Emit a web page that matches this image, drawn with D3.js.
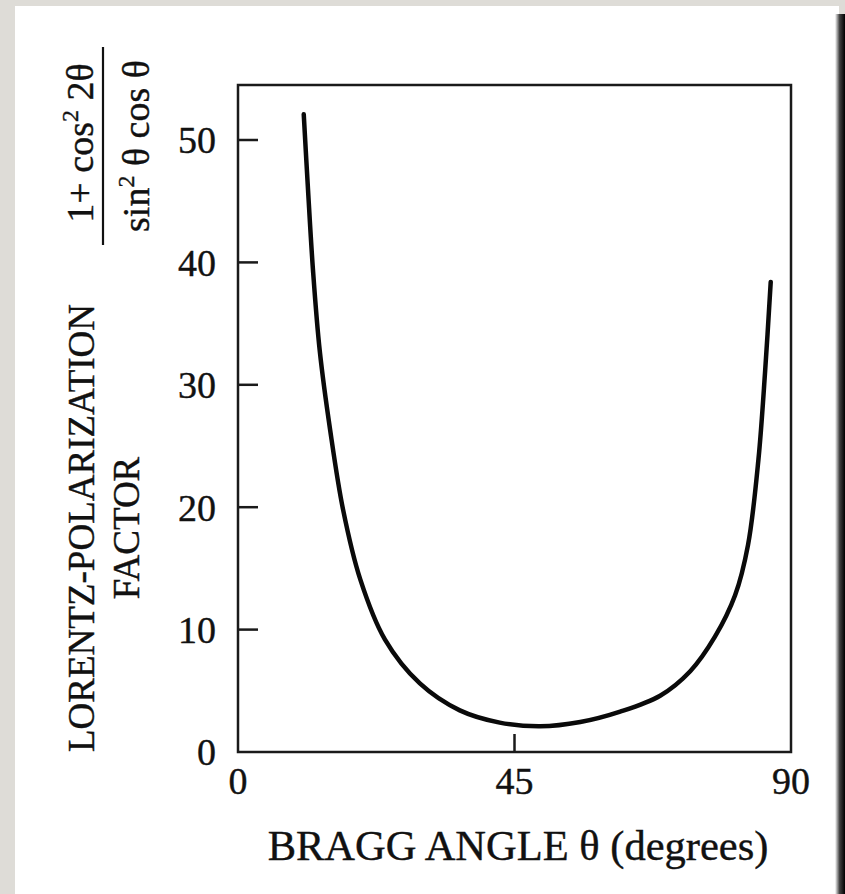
<!DOCTYPE html>
<html><head><meta charset="utf-8">
<script src="https://cdn.jsdelivr.net/npm/d3@7"></script>
<style>
html,body{margin:0;padding:0;background:#dcdad5;}
svg{display:block;}
</style></head>
<body>
<svg id="chart" width="845" height="894"></svg>
<script>
// Data
const braggAngle = [10.7, 11.4, 12.2, 13.3, 15.0, 17.1, 19.9, 23.9, 29.6, 36.1, 42.6, 49.2, 55.7, 62.2, 68.7, 73.6, 77.6, 80.9, 83.0, 84.7, 85.8, 86.7];
const lpFactor   = [52.1, 45.9, 39.4, 32.8, 26.3, 19.8, 14.1, 9.2, 5.6, 3.4, 2.4, 2.1, 2.45, 3.3, 4.6, 6.6, 9.4, 12.8, 16.9, 23.9, 31.2, 38.4];
const yTicks = [0, 10, 20, 30, 40, 50];
const xTickLabels = [0, 45, 90];
const xTickMarks = [45];

(function(){
const svg = d3.select("#chart");
const font = "'Liberation Serif','Times New Roman',serif";
const ink = "#111";

// background panel
const defs = svg.append("defs");
const g1 = defs.append("linearGradient").attr("id","shadow").attr("x1","0").attr("x2","1").attr("y1","0").attr("y2","0");
g1.append("stop").attr("offset","0").attr("stop-color","#ffffff");
g1.append("stop").attr("offset","0.45").attr("stop-color","#444");
g1.append("stop").attr("offset","1").attr("stop-color","#000");
svg.append("rect").attr("x",0).attr("y",0).attr("width",845).attr("height",894).attr("fill","#dedcd7");
svg.append("rect").attr("x",15).attr("y",6).attr("width",824).attr("height",888).attr("fill","#ffffff");
svg.append("rect").attr("x",835).attr("y",14).attr("width",10).attr("height",880).attr("fill","url(#shadow)");

const pLeft = 238, pRight = 791, pTop = 85, pBottom = 752;
const x = d3.scaleLinear().domain([0, 90]).range([pLeft, pRight]);
const y = d3.scaleLinear().domain([0, 50]).range([pBottom, 140]);

// frame
svg.append("rect").attr("x",pLeft).attr("y",pTop).attr("width",pRight-pLeft).attr("height",pBottom-pTop)
  .attr("fill","none").attr("stroke","#1a1a1a").attr("stroke-width",2.5);

// y ticks (inside)
svg.append("g").selectAll("line").data(yTicks.filter(d=>d>0)).join("line")
  .attr("x1",pLeft).attr("x2",pLeft+20).attr("y1",d=>y(d)).attr("y2",d=>y(d))
  .attr("stroke","#1a1a1a").attr("stroke-width",2.5);
svg.append("g").selectAll("text").data(yTicks).join("text")
  .attr("x",pLeft-22).attr("y",d=>y(d)).attr("dy","0.35em")
  .attr("text-anchor","end").attr("font-family",font).attr("font-size",38).attr("fill",ink)
  .attr("stroke",ink).attr("stroke-width",0.4)
  .text(d=>d);

// x ticks
svg.append("g").selectAll("line").data(xTickMarks).join("line")
  .attr("x1",d=>x(d)).attr("x2",d=>x(d)).attr("y1",pBottom).attr("y2",pBottom-18)
  .attr("stroke","#1a1a1a").attr("stroke-width",2.5);
svg.append("g").selectAll("text").data(xTickLabels).join("text")
  .attr("x",d=>x(d)).attr("y",794)
  .attr("text-anchor","middle").attr("font-family",font).attr("font-size",38).attr("fill",ink)
  .attr("stroke",ink).attr("stroke-width",0.4)
  .text(d=>d);

// x title
svg.append("text").attr("x",518).attr("y",860).attr("text-anchor","middle")
  .attr("font-family",font).attr("font-size",42.5).attr("fill",ink)
  .attr("stroke",ink).attr("stroke-width",0.4)
  .text("BRAGG ANGLE θ (degrees)");

// y title
const yt = svg.append("text").attr("transform","translate(0,528) rotate(-90)")
  .attr("text-anchor","middle").attr("font-family",font).attr("font-size",37).attr("fill",ink)
  .attr("stroke",ink).attr("stroke-width",0.4);
yt.append("tspan").attr("x",0).attr("y",94).text("LORENTZ-POLARIZATION");
yt.append("tspan").attr("x",0).attr("y",139).text("FACTOR");

// formula
const fc = 146;
const fg = svg.append("g").attr("transform",`translate(0,${fc}) rotate(-90)`);
fg.append("line").attr("x1",-99).attr("x2",99).attr("y1",103).attr("y2",103).attr("stroke",ink).attr("stroke-width",2.2);
const num = fg.append("text").attr("x",3).attr("y",93).attr("text-anchor","middle").attr("font-family",font).attr("font-size",38).attr("fill",ink)
  .attr("stroke",ink).attr("stroke-width",0.4);
num.append("tspan").text("1+ cos");
num.append("tspan").attr("font-size",24).attr("dy",-15).text("2");
num.append("tspan").attr("dy",15).text(" 2θ");
const den = fg.append("text").attr("x",0).attr("y",149).attr("text-anchor","middle").attr("font-family",font).attr("font-size",38).attr("fill",ink)
  .attr("stroke",ink).attr("stroke-width",0.4);
den.append("tspan").text("sin");
den.append("tspan").attr("font-size",24).attr("dy",-15).text("2");
den.append("tspan").attr("dy",15).text(" θ cos θ");

// curve
const pts = braggAngle.map((a,i)=>[a, lpFactor[i]]);
svg.append("path").datum(pts)
  .attr("d", d3.line().x(d=>x(d[0])).y(d=>y(d[1])).curve(d3.curveCatmullRom.alpha(0.5)))
  .attr("fill","none").attr("stroke","#0a0a0a").attr("stroke-width",4.5).attr("stroke-linecap","round");
})();
</script>
</body></html>
